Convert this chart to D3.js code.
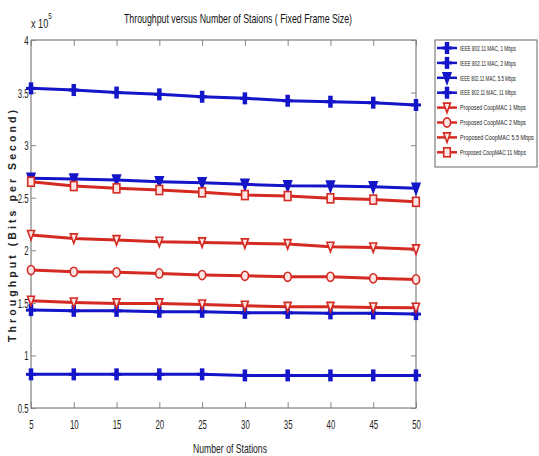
<!DOCTYPE html>
<html><head><meta charset="utf-8">
<script src="https://cdn.jsdelivr.net/npm/d3@7"></script>
<style>body{margin:0;background:#fff}svg{display:block}text{font-family:"Liberation Sans",Arial,sans-serif}</style>
</head><body><svg id="c" width="539" height="456"></svg>
<script>
const stations = [5,10,15,20,25,30,35,40,45,50];
const xTicks = [5,10,15,20,25,30,35,40,45,50];
const yTicks = [0.5,1,1.5,2,2.5,3,3.5,4];
const names = ["IEEE 802.11 MAC, 1 Mbps","IEEE 802.11 MAC, 2 Mbps","IEEE 802.11 MAC, 5.5 Mbps","IEEE 802.11 MAC, 11 Mbps",
  "Proposed CoopMAC 1 Mbps","Proposed CoopMAC 2 Mbps","Proposed CoopMAC 5.5 Mbps","Proposed CoopMAC 11 Mbps"];
const ieee1  = [0.82,0.82,0.82,0.82,0.82,0.81,0.81,0.81,0.81,0.81];
const ieee2  = [1.431,1.424,1.424,1.415,1.415,1.405,1.405,1.400,1.400,1.393];
const ieee55 = [2.684,2.677,2.668,2.652,2.642,2.627,2.614,2.611,2.604,2.589];
const ieee11 = [3.54,3.524,3.50,3.483,3.46,3.445,3.422,3.413,3.404,3.382];
const coop1  = [1.520,1.504,1.495,1.495,1.485,1.472,1.462,1.462,1.456,1.453];
const coop2  = [1.812,1.795,1.790,1.780,1.764,1.757,1.748,1.748,1.733,1.723];
const coop55 = [2.145,2.113,2.097,2.081,2.075,2.066,2.059,2.033,2.027,2.009];
const coop11 = [2.652,2.611,2.589,2.573,2.551,2.525,2.516,2.494,2.482,2.461];
const seriesVals = [ieee1,ieee2,ieee55,ieee11,coop1,coop2,coop55,coop11];
const markers = ["plus","plus","btri","plus","tri","circle","tri","square"];

const BLUE="#1414c8", RED="#d42a22", PINK="#fbe4e4";
const svg=d3.select("#c");
const L=31,R=416,T=40,B=408;
const x=d3.scaleLinear().domain([5,50]).range([L,R]);
const y=d3.scaleLinear().domain([0.5,4]).range([B,T]);

const g=svg.append("g");
g.append("rect").attr("x",L).attr("y",T).attr("width",R-L).attr("height",B-T).attr("fill","none").attr("stroke","#666").attr("stroke-width",1);
const ax=g.append("g").attr("transform",`translate(0,${B})`).call(d3.axisBottom(x).tickValues(xTicks).tickSize(-6).tickPadding(12).tickFormat(d3.format("d")));
const axT=g.append("g").attr("transform",`translate(0,${T})`).call(d3.axisTop(x).tickValues(xTicks).tickSize(-6).tickFormat(""));
const ay=g.append("g").attr("transform",`translate(${L},0)`).call(d3.axisLeft(y).tickValues(yTicks).tickSize(-5).tickPadding(1.5).tickFormat(d=>d===Math.round(d)?d3.format("d")(d):d3.format(".1f")(d)));
const ayR=g.append("g").attr("transform",`translate(${R},0)`).call(d3.axisRight(y).tickValues(yTicks).tickSize(-5).tickFormat(""));
[ax,axT,ay,ayR].forEach(a=>{a.select(".domain").remove();a.selectAll(".tick line").attr("stroke","#888");
  a.selectAll("text").attr("fill","#222").attr("font-size",13).attr("transform","scale(0.6,1)");});
ay.selectAll("text").attr("x",-2.5/0.6).attr("dy","0.35em");

const line=d3.line().x((d,i)=>x(stations[i])).y(d=>y(d));
function drawMarker(sel,type,color,cx,cy){
  if(type==="plus"){
    sel.append("line").attr("x1",cx).attr("x2",cx).attr("y1",cy-6).attr("y2",cy+6).attr("stroke",color).attr("stroke-width",4.5);
    sel.append("line").attr("x1",cx-5).attr("x2",cx+5).attr("y1",cy).attr("y2",cy).attr("stroke",color).attr("stroke-width",3);
  } else if(type==="btri"){
    sel.append("path").attr("d",`M${cx-4},${cy-5}L${cx+4},${cy-5}L${cx},${cy+6}Z`).attr("fill",color).attr("stroke",color).attr("stroke-width",1.5);
  } else if(type==="tri"){
    sel.append("path").attr("d",`M${cx-3.5},${cy-4.5}L${cx+3.5},${cy-4.5}L${cx},${cy+5}Z`).attr("fill",PINK).attr("stroke",color).attr("stroke-width",1.6);
  } else if(type==="circle"){
    sel.append("ellipse").attr("cx",cx).attr("cy",cy).attr("rx",3.6).attr("ry",4.6).attr("fill",PINK).attr("stroke",color).attr("stroke-width",1.6);
  } else {
    sel.append("rect").attr("x",cx-3.3).attr("y",cy-4.5).attr("width",6.6).attr("height",9).attr("fill",PINK).attr("stroke",color).attr("stroke-width",1.6);
  }
}
seriesVals.forEach((vals,k)=>{
  const color=k<4?BLUE:RED;
  const sg=g.append("g");
  sg.append("path").datum(vals).attr("d",line).attr("fill","none").attr("stroke",color).attr("stroke-width",3);
  vals.forEach((v,i)=>drawMarker(sg,markers[k],color,x(stations[i]),y(v)));
});

// title & labels
svg.append("text").attr("x",238).attr("y",23).attr("text-anchor","middle").attr("font-size",13).attr("fill","#111")
  .attr("textLength",228).attr("lengthAdjust","spacingAndGlyphs").text("Throughput versus Number of Staions ( Fixed Frame Size)");
const ex=svg.append("text").attr("transform","translate(31,28) scale(0.7,1)").attr("font-size",13).attr("fill","#222");
ex.append("tspan").text("x 10");
ex.append("tspan").attr("dy",-9).attr("font-size",9).text("5");
svg.append("text").attr("transform","translate(16,226) rotate(-90)").attr("text-anchor","middle").attr("font-size",10.5).attr("font-weight","bold")
  .attr("fill","#222").attr("textLength",232).attr("lengthAdjust","spacing").text("Throughput (Bits per Second)");
svg.append("text").attr("x",230).attr("y",453).attr("text-anchor","middle").attr("font-size",13).attr("fill","#222")
  .attr("textLength",74).attr("lengthAdjust","spacingAndGlyphs").text("Number of Stations");

// legend
const lg=svg.append("g");
lg.append("rect").attr("x",435).attr("y",40).attr("width",102).attr("height",127).attr("fill","#fff").attr("stroke","#666");
names.forEach((n,k)=>{
  const color=k<4?BLUE:RED, yy=48+k*14.9;
  const eg=lg.append("g");
  eg.append("line").attr("x1",437).attr("x2",457).attr("y1",yy).attr("y2",yy).attr("stroke",color).attr("stroke-width",2.5);
  drawMarker(eg,markers[k],color,447,yy);
  const t=eg.append("text").attr("x",0).attr("y",0).attr("font-size",8).attr("fill","#222").text(n);
  const target=k<4?56:(k===6?74:66);
  const w=t.node().getComputedTextLength();
  t.attr("transform",`translate(460,${yy+2.7}) scale(${target/w},1)`);
});
</script></body></html>
